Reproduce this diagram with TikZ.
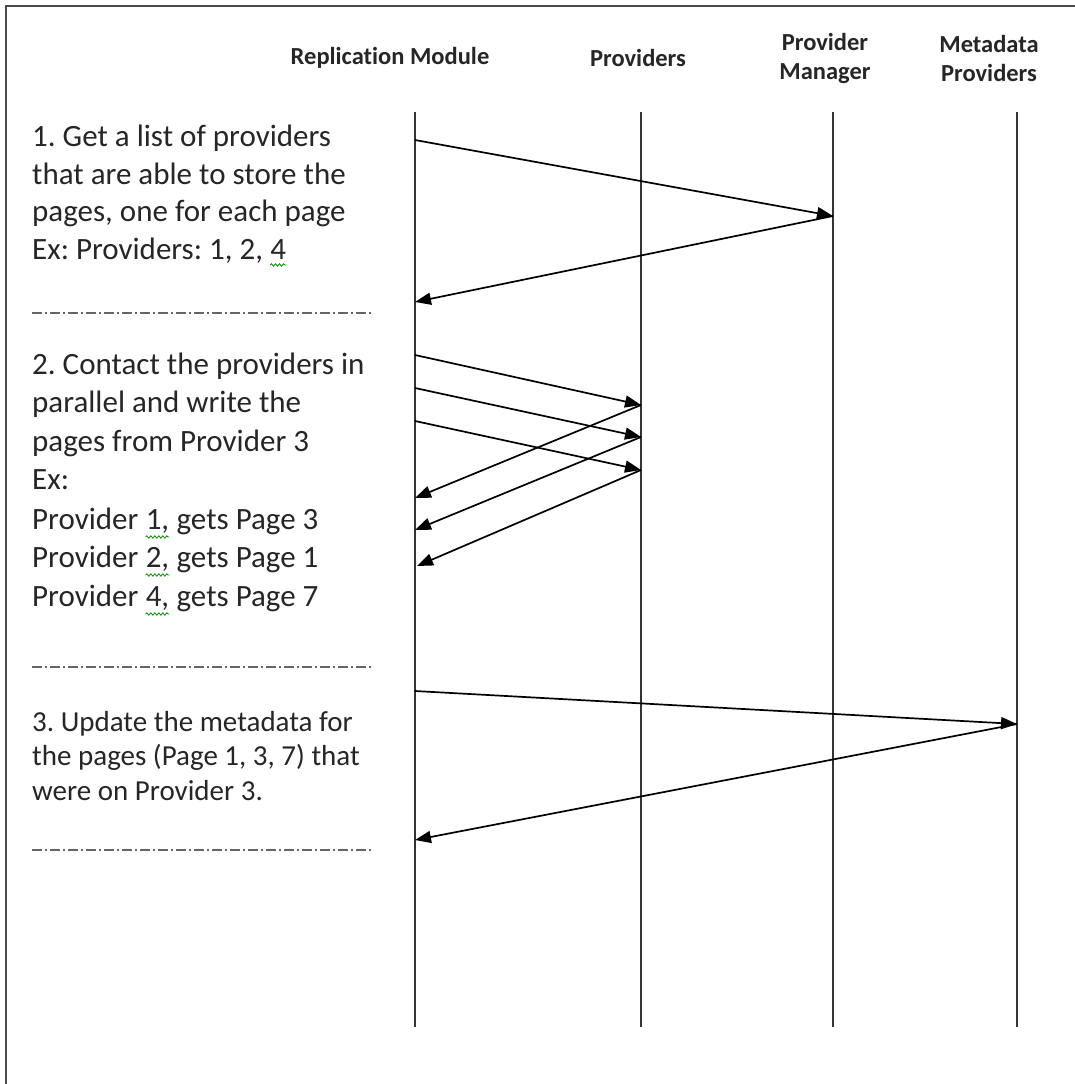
\documentclass[tikz,border=0pt]{standalone}
\usepackage{fontspec}
\setmainfont{Carlito}[Ligatures=NoCommon]
\frenchspacing
\usetikzlibrary{arrows.meta,decorations.pathmorphing}
\begin{document}
\begin{tikzpicture}[x=1pt,y=-1pt,
  lifeline/.style={line width=1.6pt, black!80},
  msg/.style={line width=1.7pt, black, -{Triangle[length=16pt,width=12pt]}},
  sepline/.style={line width=1.7pt, black!60, dash pattern=on 10pt off 3pt on 2pt off 3pt},
  hdr/.style={font=\fontsize{24.5}{29}\selectfont\bfseries, text=black!85, align=center, inner sep=0pt},
  body/.style={font=\fontsize{31}{37.5}\selectfont, text=black!85, anchor=base west, inner sep=0pt},
  bodys/.style={font=\fontsize{29}{35}\selectfont, text=black!85, anchor=base west, inner sep=0pt},
  squig/.style={green!55!black, line width=0.8pt, decorate, decoration={snake, amplitude=1.2pt, segment length=4pt}},
  framel/.style={line width=2.5pt, black!70}]
\useasboundingbox (0,0) rectangle (1075,1084);
\draw[framel] (6,1084) -- (6,6) -- (1075,6);

% headers
\node[hdr] (hRM) at (390,58) {Replication Module};
\node[hdr] (hP)  at (638,58) {Providers};
\node[hdr] (hPM) at (825,58) {Provider\\Manager};
\node[hdr] (hMP) at (989,58) {Metadata\\Providers};

% lifelines
\coordinate (RMt) at (415,112); \coordinate (RMb) at (415,1027);
\coordinate (Pt)  at (641,112); \coordinate (Pb)  at (641,1027);
\coordinate (PMt) at (833,112); \coordinate (PMb) at (833,1027);
\coordinate (MPt) at (1017,112); \coordinate (MPb) at (1017,1027);
\draw[lifeline] (RMt) -- (RMb);
\draw[lifeline] (Pt) -- (Pb);
\draw[lifeline] (PMt) -- (PMb);
\draw[lifeline] (MPt) -- (MPb);

% section 1 text
\node[body] (t1a) at (32,146) {1. Get a list of providers};
\node[body] (t1b) at (32,184) {that are able to store the};
\node[body] (t1c) at (32,221) {pages, one for each page};
\node[body] (t1d) at (32,259) {Ex: Providers: 1, 2,\ \null};
\node[body] (t1e) at (t1d.base east) {4};
\draw[squig] ([yshift=-6pt]t1e.base west) -- ([yshift=-6pt]t1e.base east);

% section 1 arrows
\coordinate (a1s) at (415,140); \coordinate (a1e) at (833,216);
\coordinate (a2e) at (415,302);
\draw[msg] (a1s) -- (a1e);
\draw[msg] (a1e) -- (a2e);

\coordinate (s1a) at (32,313); \coordinate (s1b) at (372,313);
\draw[sepline] (s1a) -- (s1b);

% section 2 text
\node[body] (t2a) at (32,374) {2. Contact the providers in};
\node[body] (t2b) at (32,412) {parallel and write the};
\node[body] (t2c) at (32,451) {pages from Provider 3};
\node[body] (t2d) at (32,489) {Ex:};
\node[body] (p1a) at (32,529) {Provider\ \null};
\node[body] (p1b) at (p1a.base east) {1,};
\node[body] (p1c) at (p1b.base east) {\ gets Page 3};
\node[body] (p2a) at (32,567) {Provider\ \null};
\node[body] (p2b) at (p2a.base east) {2,};
\node[body] (p2c) at (p2b.base east) {\ gets Page 1};
\node[body] (p3a) at (32,606) {Provider\ \null};
\node[body] (p3b) at (p3a.base east) {4,};
\node[body] (p3c) at (p3b.base east) {\ gets Page 7};
\draw[squig] ([yshift=-8pt]p1b.base west) -- ([yshift=-8pt]p1b.base east);
\draw[squig] ([yshift=-8pt]p2b.base west) -- ([yshift=-8pt]p2b.base east);
\draw[squig] ([yshift=-8pt]p3b.base west) -- ([yshift=-8pt]p3b.base east);

% section 2 arrows
\coordinate (b1s) at (415,355); \coordinate (b1e) at (641,405);
\coordinate (b2s) at (415,388); \coordinate (b2e) at (641,437);
\coordinate (b3s) at (415,421); \coordinate (b3e) at (641,470);
\coordinate (c1e) at (415,498); \coordinate (c2e) at (415,530);
\coordinate (c3e) at (417,566);
\draw[msg] (b1s) -- (b1e);
\draw[msg] (b2s) -- (b2e);
\draw[msg] (b3s) -- (b3e);
\draw[msg] (b1e) -- (c1e);
\draw[msg] (b2e) -- (c2e);
\draw[msg] (b3e) -- (c3e);

\coordinate (s2a) at (32,667); \coordinate (s2b) at (372,667);
\draw[sepline] (s2a) -- (s2b);

% section 3 text
\node[bodys] (t3a) at (32,731) {3. Update the metadata for};
\node[bodys] (t3b) at (32,765) {the pages (Page 1, 3, 7) that};
\node[bodys] (t3c) at (32,800) {were on Provider 3.};

% section 3 arrows
\coordinate (d1s) at (415,691); \coordinate (d1e) at (1017,724);
\coordinate (d2e) at (415,840);
\draw[msg] (d1s) -- (d1e);
\draw[msg] (d1e) -- (d2e);

\coordinate (s3a) at (32,850); \coordinate (s3b) at (372,850);
\draw[sepline] (s3a) -- (s3b);
\end{tikzpicture}
\end{document}
